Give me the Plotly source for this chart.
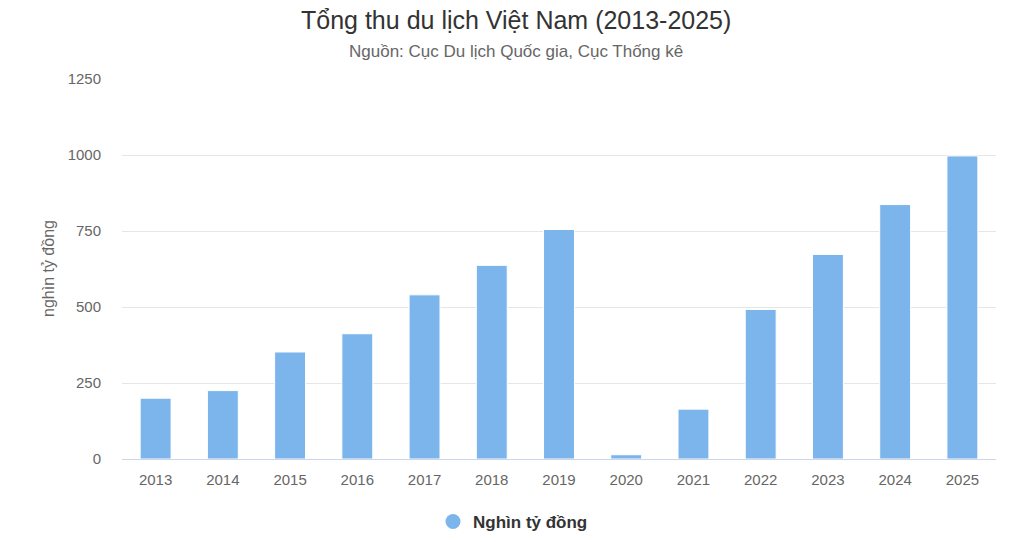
import plotly.graph_objects as go

years = ["2013", "2014", "2015", "2016", "2017", "2018", "2019",
         "2020", "2021", "2022", "2023", "2024", "2025"]
revenue = [200, 225, 352, 412, 540, 637, 755, 14, 164, 492, 673, 837, 997]
y_ticks = [0, 250, 500, 750, 1000, 1250]

title_text = "Tổng thu du lịch Việt Nam (2013-2025)"
subtitle_text = "Nguồn: Cục Du lịch Quốc gia, Cục Thống kê"
series_name = "Nghìn tỷ đồng"
y_title = "nghìn tỷ đồng"

BAR_COLOR = "#7cb5ec"
FONT = "Liberation Sans, Arial, sans-serif"

# plot area targeted at x 122..996, y 79..459 (page body margin removed)
PL, PR, PT, PB = 122, 996, 79, 459
W, H = 1023, 542
PW, PH = PR - PL, PB - PT

def px_x(x):
    return (x - PL) / PW

def px_y(y):
    return (PB - y) / PH

fig = go.Figure()
fig.add_trace(go.Bar(
    x=years, y=revenue, name=series_name,
    marker=dict(color=BAR_COLOR, line=dict(color="#ffffff", width=1)),
    showlegend=False,
))
# legend entry with circular marker
fig.add_trace(go.Scatter(
    x=[None], y=[None], mode="markers", name=series_name,
    marker=dict(color=BAR_COLOR, size=15, symbol="circle"),
    showlegend=True,
))

fig.update_layout(
    width=W, height=H,
    margin=dict(l=PL, r=W - PR, t=PT, b=H - PB, autoexpand=False),
    paper_bgcolor="#ffffff", plot_bgcolor="#ffffff",
    font=dict(family=FONT, color="#666666", size=15),
    bargap=0.54,
    showlegend=True,
    legend=dict(
        orientation="h", x=px_x(513), xanchor="center", y=px_y(522), yanchor="middle",
        font=dict(family=FONT, size=17, color="#333333", weight="bold"),
        itemsizing="trace",
    ),
    xaxis=dict(
        showgrid=False, showline=True, linecolor="#ccd6eb", linewidth=1,
        ticks="outside", ticklen=7, tickcolor="rgba(0,0,0,0)",
        tickfont=dict(family=FONT, size=15, color="#666666"),
        fixedrange=True,
    ),
    yaxis=dict(
        range=[0, 1250], tickvals=y_ticks, ticktext=[str(v) for v in y_ticks],
        showgrid=True, gridcolor="#e6e6e6", gridwidth=1,
        zeroline=False, showline=False,
        ticks="outside", ticklen=17, tickcolor="rgba(0,0,0,0)",
        tickfont=dict(family=FONT, size=15, color="#666666"),
        fixedrange=True,
    ),
    annotations=[
        dict(text=title_text, xref="paper", yref="paper",
             x=px_x(516), y=px_y(20),
             xanchor="center", yanchor="middle", showarrow=False,
             font=dict(family=FONT, size=25, color="#333333")),
        dict(text=subtitle_text, xref="paper", yref="paper",
             x=px_x(516), y=px_y(52),
             xanchor="center", yanchor="middle", showarrow=False,
             font=dict(family=FONT, size=17, color="#666666")),
        dict(text=y_title, xref="paper", yref="paper",
             x=px_x(48), y=0.5, textangle=-90,
             xanchor="center", yanchor="middle", showarrow=False,
             font=dict(family=FONT, size=16, color="#666666")),
    ],
)

fig.write_html("out.html", config={"displayModeBar": False},
               post_script="document.body.style.margin='0';")
